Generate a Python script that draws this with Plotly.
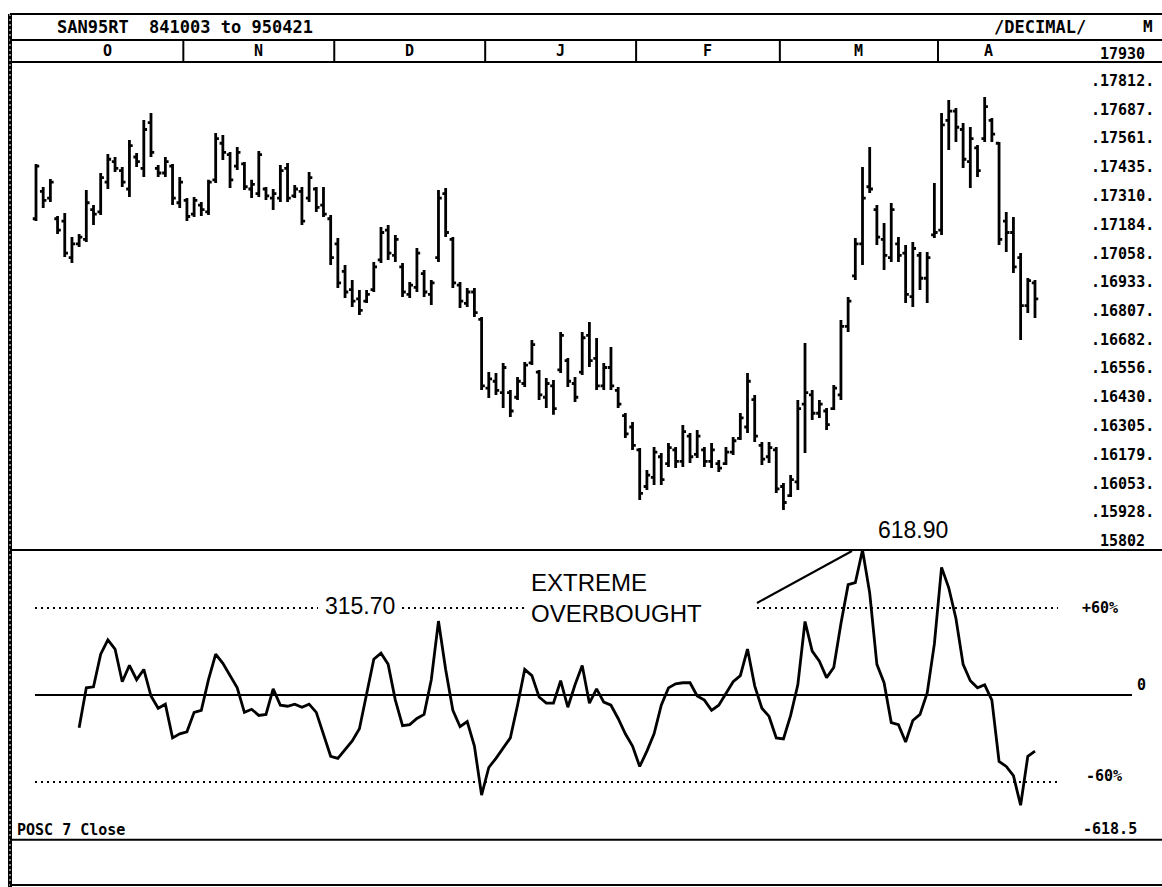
import plotly.graph_objects as go

W, H = 1162, 887

# ---------------- data ----------------
title_text = "SAN95RT  841003 to 950421"

bar_high = [17449, 17349, 17384, 17222, 17235, 17130, 17143, 17336, 17270, 17410,
            17493, 17480, 17436, 17554, 17497, 17642, 17672, 17445, 17480, 17449,
            17393, 17301, 17305, 17283, 17380, 17585, 17576, 17502, 17524, 17458,
            17380, 17506, 17349, 17340, 17445, 17454, 17358, 17349, 17414, 17349,
            17349, 17226, 17126, 17008, 16942, 16899, 16899, 17021, 17174, 17183,
            17139, 17017, 16934, 17082, 16986, 16942, 17336, 17344, 17130, 16934,
            16907, 16907, 16781, 16540, 16536, 16580, 16462, 16519, 16584, 16680,
            16549, 16514, 16505, 16715, 16602, 16519, 16715, 16759, 16689, 16580,
            16650, 16475, 16361, 16322, 16208, 16112, 16213, 16186, 16230, 16213,
            16309, 16274, 16287, 16213, 16230, 16156, 16213, 16256, 16361, 16536,
            16440, 16234, 16234, 16213, 16055, 16090, 16418, 16667, 16462, 16418,
            16383, 16484, 16768, 16868, 17126, 17436, 17524, 17270, 17191, 17279,
            17130, 17095, 17109, 17065, 17065, 17366, 17672, 17729, 17694, 17629,
            17611, 17532, 17742, 17650, 17545, 17240, 17218, 17060, 16951, 16942]

bar_low = [17200, 17257, 17283, 17143, 17043, 17017, 17087, 17109, 17183, 17226,
           17340, 17414, 17349, 17305, 17436, 17393, 17480, 17393, 17393, 17270,
           17257, 17200, 17218, 17222, 17226, 17366, 17467, 17344, 17423, 17336,
           17301, 17305, 17292, 17248, 17283, 17283, 17301, 17183, 17283, 17240,
           17218, 17008, 16907, 16864, 16824, 16789, 16842, 16890, 17017, 17030,
           17021, 16868, 16864, 16890, 16868, 16833, 17021, 17130, 16907, 16820,
           16824, 16781, 16462, 16427, 16440, 16383, 16344, 16418, 16475, 16571,
           16418, 16383, 16353, 16536, 16475, 16409, 16527, 16562, 16462, 16462,
           16462, 16383, 16252, 16200, 15981, 16025, 16047, 16047, 16125, 16121,
           16125, 16143, 16165, 16125, 16121, 16103, 16134, 16178, 16243, 16274,
           16234, 16134, 16143, 16012, 15937, 15994, 16025, 16186, 16331, 16339,
           16287, 16374, 16418, 16715, 16942, 17008, 17323, 17095, 16986, 17021,
           17021, 16842, 16824, 16899, 16842, 17126, 17139, 17511, 17545, 17432,
           17344, 17393, 17545, 17545, 17095, 17065, 16973, 16680, 16798, 16776]

bar_open = [17210, 17330, 17300, 17210, 17200, 17040, 17100, 17120, 17250, 17240,
            17370, 17460, 17420, 17340, 17480, 17430, 17630, 17430, 17410, 17440,
            17280, 17290, 17230, 17270, 17240, 17380, 17540, 17490, 17440, 17450,
            17340, 17320, 17340, 17300, 17300, 17430, 17310, 17330, 17300, 17340,
            17270, 17210, 17100, 16980, 16900, 16860, 16850, 16900, 17030, 17160,
            17050, 17000, 16880, 16910, 16970, 16880, 17040, 17320, 17120, 16920,
            16840, 16890, 16770, 16470, 16500, 16450, 16450, 16430, 16490, 16580,
            16540, 16430, 16480, 16550, 16590, 16490, 16540, 16700, 16600, 16480,
            16560, 16460, 16350, 16300, 16200, 16040, 16080, 16170, 16140, 16200,
            16150, 16260, 16180, 16200, 16150, 16140, 16140, 16190, 16250, 16300,
            16420, 16220, 16170, 16200, 16040, 16000, 16060, 16400, 16440, 16360,
            16370, 16380, 16440, 16740, 16960, 17100, 17350, 17250, 17120, 17040,
            17100, 17060, 16870, 17050, 16950, 17140, 17160, 17640, 17680, 17600,
            17460, 17520, 17560, 17640, 17540, 17200, 17150, 17040, 16830, 16930]

bar_close = [17440, 17290, 17370, 17160, 17060, 17100, 17130, 17280, 17230, 17390,
             17470, 17430, 17370, 17530, 17460, 17600, 17500, 17410, 17460, 17300,
             17370, 17220, 17290, 17250, 17370, 17560, 17500, 17380, 17500, 17350,
             17360, 17490, 17310, 17320, 17420, 17300, 17340, 17200, 17390, 17260,
             17230, 17040, 16930, 16890, 16850, 16810, 16880, 17000, 17150, 17060,
             17120, 16890, 16920, 17060, 16890, 16930, 17300, 17150, 16930, 16850,
             16890, 16800, 16480, 16510, 16460, 16560, 16370, 16500, 16570, 16660,
             16440, 16490, 16380, 16700, 16500, 16430, 16690, 16590, 16480, 16560,
             16480, 16400, 16270, 16220, 16010, 16090, 16190, 16070, 16210, 16150,
             16280, 16170, 16260, 16150, 16200, 16120, 16190, 16240, 16340, 16500,
             16260, 16160, 16210, 16030, 15970, 16070, 16380, 16450, 16360, 16400,
             16310, 16470, 16740, 16850, 17100, 17300, 17340, 17130, 17050, 17250,
             17050, 16880, 17080, 16950, 17040, 17150, 17620, 17680, 17610, 17470,
             17560, 17420, 17700, 17580, 17120, 17150, 17000, 16830, 16940, 16860]

# POSC 7 Close -- first value falls on bar 6
osc_first_bar = 6
osc_values = [-139.5, 30.5, 34.9, 174.4, 235.4, 196.2, 56.7, 126.4, 65.4, 109.0,
              -4.4, -56.7, -39.2, -183.1, -165.7, -157.0, -74.1, -65.4, 65.4, 174.4,
              135.2, 82.8, 30.5, -74.1, -61.0, -87.2, -82.8, 26.2, -43.6, -48.0,
              -39.2, -52.3, -39.2, -74.1, -165.7, -261.6, -270.3, -235.4, -196.2, -143.9,
              0.0, 152.6, 178.8, 130.8, -21.8, -130.8, -126.4, -100.3, -82.8, 65.4,
              315.7, 109.0, -65.4, -135.2, -113.4, -218.0, -427.3, -309.6, -270.3, -226.7,
              -183.1, -43.6, 109.0, 82.8, -8.7, -34.9, -34.9, 61.0, -52.3, 43.6,
              126.4, -34.9, 26.2, -30.5, -43.6, -100.3, -165.7, -218.0, -305.2, -239.8,
              -165.7, -43.6, 30.5, 48.0, 52.3, 52.3, -4.4, -21.8, -65.4, -43.6,
              4.4, 56.7, 82.8, 196.2, 39.2, -56.7, -91.6, -183.1, -187.5, -87.2,
              43.6, 313.9, 187.5, 143.9, 74.1, 117.7, 305.2, 470.9, 479.6, 618.9,
              436.0, 130.8, 52.3, -117.7, -126.4, -200.6, -109.0, -82.8, 8.7, 218.0,
              545.0, 457.8, 327.0, 130.8, 61.0, 30.5, 43.6, -21.8, -283.4, -305.2,
              -344.4, -470.9, -261.6, -239.8]

months = ["O", "N", "D", "J", "F", "M", "A"]
month_first_bar = [0, 21, 42, 63, 84, 104, 126]

price_labels = [17930, 17812, 17687, 17561, 17435, 17310, 17184, 17058, 16933,
                16807, 16682, 16556, 16430, 16305, 16179, 16053, 15928, 15802]

osc_max = 618.9
osc_min = -618.5
band_pct = 60
peak_labels = ["315.70", "618.90"]

# ---------------- geometry helpers ----------------
def px(x):
    return x / W

def py(y):
    return 1 - y / H

BAR0_X, BAR_STEP = 36.0, 7.187           # pixel position of first bar, bar spacing
PRICE_TOP, PRICE_PER_PX = 18166.0, 4.37  # price at y=0, price units per pixel
OSC_ZERO_Y, OSC_PER_PX = 695.0, 4.27     # oscillator zero row, units per pixel

n_bars = len(bar_high)
bar_x = list(range(n_bars))
osc_x = list(range(osc_first_bar, osc_first_bar + len(osc_values)))

x_range = [(0 - BAR0_X) / BAR_STEP, (W - BAR0_X) / BAR_STEP]
price_range = [PRICE_TOP - H * PRICE_PER_PX, PRICE_TOP]
osc_range = [-(H - OSC_ZERO_Y) * OSC_PER_PX, OSC_ZERO_Y * OSC_PER_PX]

MONO = "DejaVu Sans Mono"
SANS = "Liberation Sans"
INK = "black"

fig = go.Figure()

fig.add_trace(go.Ohlc(
    x=bar_x, open=bar_open, high=bar_high, low=bar_low, close=bar_close,
    increasing=dict(line=dict(color=INK, width=2.8)),
    decreasing=dict(line=dict(color=INK, width=2.8)),
    tickwidth=0.45, showlegend=False, hoverinfo="skip",
))

fig.add_trace(go.Scatter(
    x=osc_x, y=osc_values, yaxis="y2", mode="lines",
    line=dict(color=INK, width=2.8), showlegend=False, hoverinfo="skip",
))

shapes = []

def hline(y, x0=10, x1=W, width=2, dash="solid"):
    shapes.append(dict(type="line", xref="paper", yref="paper",
                       x0=px(x0), x1=px(x1), y0=py(y), y1=py(y),
                       line=dict(color=INK, width=width, dash=dash)))

# frame
shapes.append(dict(type="line", xref="paper", yref="paper", x0=px(10), x1=px(10),
                   y0=py(14), y1=py(H), line=dict(color=INK, width=4)))
shapes.append(dict(type="line", xref="paper", yref="paper", x0=px(10), x1=px(10),
                   y0=py(14), y1=py(H), line=dict(color="white", width=1, dash="2px,3px")))
hline(14)
hline(40)
hline(62)
hline(885)

# month separators in the header row
for b in month_first_bar[1:]:
    shapes.append(dict(type="line", xref="x", yref="paper", x0=b - 0.5, x1=b - 0.5,
                       y0=py(40), y1=py(62), line=dict(color=INK, width=2)))

# oscillator frame and bands
shapes.append(dict(type="line", xref="paper", yref="y2", x0=px(10), x1=1,
                   y0=osc_max, y1=osc_max, line=dict(color=INK, width=2)))
shapes.append(dict(type="line", xref="paper", yref="y2", x0=px(10), x1=1,
                   y0=osc_min, y1=osc_min, line=dict(color=INK, width=2)))
shapes.append(dict(type="line", xref="paper", yref="y2", x0=px(35), x1=px(1132),
                   y0=0, y1=0, line=dict(color=INK, width=2)))
band = osc_max * band_pct / 100
dot = dict(color=INK, width=2, dash="2px,4px")
# upper band is broken where the captions sit on it
for x0, x1 in [(35, 318), (402, 526), (757, 1058)]:
    shapes.append(dict(type="line", xref="paper", yref="y2", x0=px(x0), x1=px(x1),
                       y0=band, y1=band, line=dot))
shapes.append(dict(type="line", xref="paper", yref="y2", x0=px(35), x1=px(1058),
                   y0=-band, y1=-band, line=dot))

# leader from the caption to the peak
shapes.append(dict(type="line", xref="paper", yref="paper", x0=px(757), y0=py(603),
                   x1=px(852), y1=py(551), line=dict(color=INK, width=2)))

annotations = []

def label(x, y, s, size=15, font=MONO, xanchor="center", xref="paper", yref="paper",
          bold=True, yshift=0):
    annotations.append(dict(
        x=x, y=y, xref=xref, yref=yref, text=f"<b>{s}</b>" if bold else s,
        showarrow=False, xanchor=xanchor, yanchor="middle", yshift=yshift,
        font=dict(family=font, size=size, color=INK)))

# header
label(px(55), py(27), title_text, size=17, xanchor="left")
label(px(1040), py(27), "/DECIMAL/", size=17)
label(px(1148), py(27), "M", size=16)

# months
for i, m in enumerate(months):
    last = month_first_bar[i + 1] - 1 if i + 1 < len(months) else n_bars - 1
    label((month_first_bar[i] + last) / 2, py(51), m, xref="x")

# price scale
for i, p in enumerate(price_labels):
    s = str(p) if i in (0, len(price_labels) - 1) else f".{p}."
    label(px(1122), p, s, yref="y")

# oscillator scale
label(px(1100), band, "+60%", yref="y2")
label(px(1141), 0, "0", yref="y2", yshift=10)
label(px(1104), -band, "-60%", yref="y2", yshift=6)
label(px(1110), osc_min, "-618.5", yref="y2", yshift=11)
label(px(15), osc_min, "POSC 7 Close", xanchor="left", yref="y2", yshift=10)

# peak values and caption
label(px(360), band, peak_labels[0], size=23, font=SANS, yref="y2", bold=False, yshift=2)
label(px(913), osc_max, peak_labels[1], size=23, font=SANS, yref="y2", bold=False, yshift=20)
label(px(529), py(582), "EXTREME", size=24, font=SANS, xanchor="left", bold=False)
label(px(529), py(613), "OVERBOUGHT", size=24, font=SANS, xanchor="left", bold=False)

fig.update_layout(
    width=W, height=H, autosize=False,
    margin=dict(l=0, r=0, t=0, b=0, pad=0),
    paper_bgcolor="white", plot_bgcolor="white",
    showlegend=False,
    xaxis=dict(range=x_range, visible=False, fixedrange=True,
               rangeslider=dict(visible=False)),
    yaxis=dict(range=price_range, visible=False, domain=[0, 1], fixedrange=True),
    yaxis2=dict(range=osc_range, visible=False, overlaying="y", fixedrange=True),
    shapes=shapes,
    annotations=annotations,
)

fig.write_html("out.html", config={"displayModeBar": False})
